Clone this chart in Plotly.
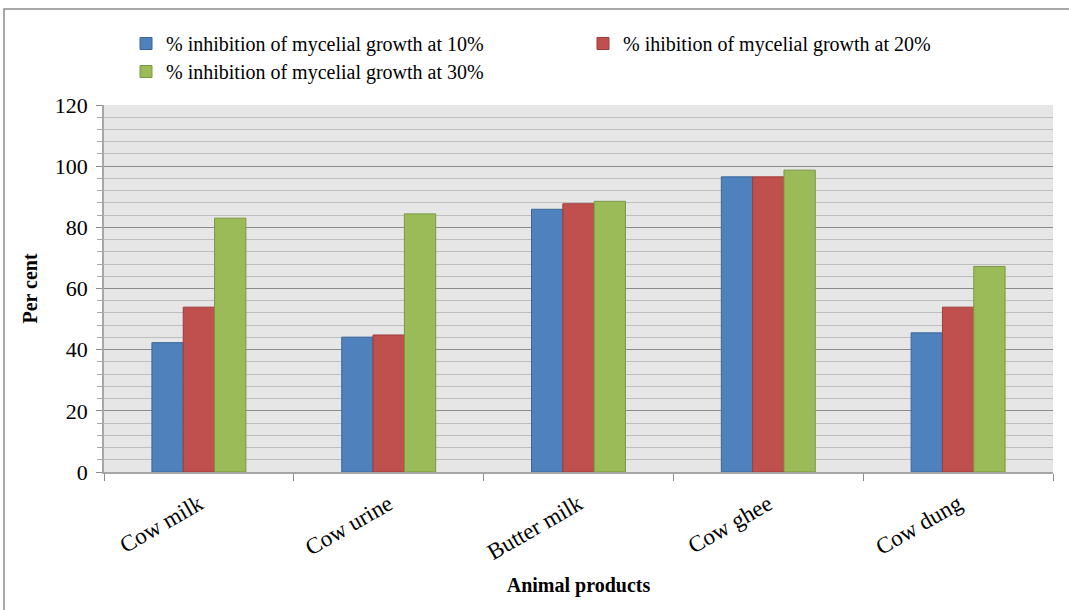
import plotly.graph_objects as go

# Mycelial growth inhibition by animal products at three concentrations
products = ["Cow milk", "Cow urine", "Butter milk", "Cow ghee", "Cow dung"]
inhib_10 = [42.3, 44.1, 85.9, 96.5, 45.5]
inhib_20 = [53.9, 44.8, 87.7, 96.5, 53.9]
inhib_30 = [83.0, 84.4, 88.5, 98.7, 67.2]

series_names = [
    "% inhibition of mycelial growth at 10%",
    "% ihibition of mycelial growth at 20%",
    "% inhibition of mycelial growth at 30%",
]
fill_colors = ["#4F81BD", "#C0504D", "#9BBB59"]
edge_colors = ["#3A6699", "#9E3C3A", "#7A9844"]
legend_ids = ["legend", "legend2", "legend3"]

W, H = 1069, 610
ML, MR, MT, MB = 104, 16, 105, 138
PW, PH = W - ML - MR, H - MT - MB

def px_x(p):
    return (p - ML) / PW

def px_y(p):
    return (H - MB - p) / PH

serif = "Times New Roman, Liberation Serif, serif"

fig = go.Figure()
for vals, name, fc, ec, lg in zip([inhib_10, inhib_20, inhib_30], series_names,
                                  fill_colors, edge_colors, legend_ids):
    fig.add_trace(go.Bar(
        x=products, y=vals, name=name, legend=lg, showlegend=True,
        marker=dict(color=fc, line=dict(color=ec, width=1)),
    ))

def legend_box(x_px, y_px):
    return dict(
        orientation="h", x=px_x(x_px), y=px_y(y_px), xanchor="left", yanchor="top",
        font=dict(size=20, family=serif, color="black"), bgcolor="rgba(0,0,0,0)",
        visible=True,
    )

fig.update_layout(
    width=W, height=H,
    margin=dict(l=ML, r=MR, t=MT, b=MB),
    paper_bgcolor="white",
    plot_bgcolor="#E6E6E6",
    showlegend=True,
    barmode="group",
    bargap=0.505,
    bargroupgap=0,
    font=dict(family=serif, size=20, color="black"),
    legend=legend_box(126, 24),
    legend2=legend_box(583, 24),
    legend3=legend_box(126, 52),
    xaxis=dict(
        type="category",
        tickson="boundaries",
        ticks="outside", ticklen=7, tickcolor="#8C8C8C",
        showline=True, linecolor="#A6A6A6", linewidth=1.5,
        showgrid=False,
        tickangle=-30,
        ticklabelstandoff=8,
        tickfont=dict(size=23, family=serif),
        title=dict(text="<b>Animal products</b>", font=dict(size=20, family=serif), standoff=14),
    ),
    yaxis=dict(
        range=[0, 120], dtick=20,
        ticks="outside", ticklen=6, tickcolor="#8C8C8C",
        showline=True, linecolor="#A6A6A6", linewidth=1.5,
        showgrid=True, gridcolor="#8C8C8C", gridwidth=1,
        zeroline=False,
        ticklabelstandoff=4,
        tickfont=dict(size=22, family=serif),
        title=dict(text="<b>Per cent</b>", font=dict(size=20, family=serif), standoff=12),
        minor=dict(dtick=4, showgrid=True, gridcolor="#BDBDBD", gridwidth=1,
                   ticks="outside", ticklen=5, tickcolor="#A6A6A6"),
    ),
    shapes=[dict(
        type="rect", xref="paper", yref="paper", layer="above",
        x0=px_x(4), x1=px_x(1080), y0=px_y(620), y1=px_y(9),
        line=dict(color="#8C8C8C", width=1.5), fillcolor="rgba(0,0,0,0)",
    )],
)

fig.write_html("out.html")
